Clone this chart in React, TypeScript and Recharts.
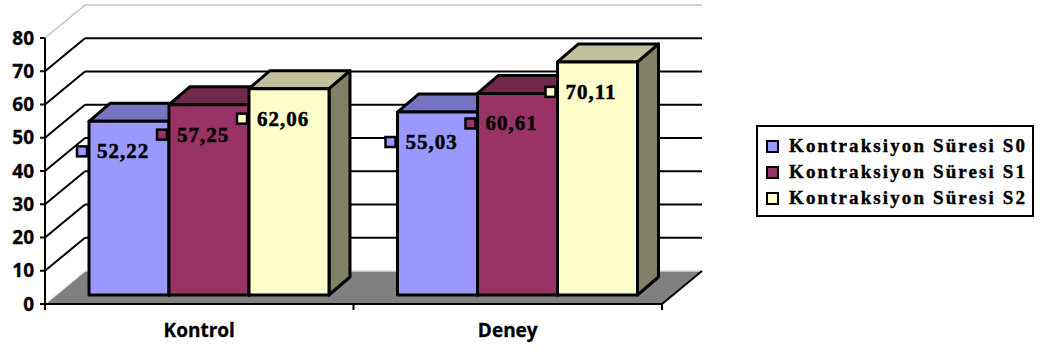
import { BarChart, Bar, XAxis, YAxis, CartesianGrid, Legend, LabelList } from 'recharts'

const CATEGORIES = ['Kontrol', 'Deney']
const S0_VALUES = [52.22, 55.03]
const S1_VALUES = [57.25, 60.61]
const S2_VALUES = [62.06, 70.11]
const SERIES_NAMES = ['Kontraksiyon Süresi S0', 'Kontraksiyon Süresi S1', 'Kontraksiyon Süresi S2']
const Y_TICKS = [0, 10, 20, 30, 40, 50, 60, 70, 80]

const data = CATEGORIES.map((name, i) => ({
  name,
  s0: S0_VALUES[i],
  s1: S1_VALUES[i],
  s2: S2_VALUES[i],
}))

// front / top / side shades of each box
const COLORS = [
  { front: '#9999FF', top: '#7474C0', side: '#5C5C99' },
  { front: '#993366', top: '#72284D', side: '#5C1F3D' },
  { front: '#FFFFCC', top: '#C0C09A', side: '#808066' },
]

const CHART_W = 1047
const CHART_H = 352
const MARGIN = { top: 38, right: 385, bottom: 0, left: 0 }
const Y_AXIS_W = 45
const X_AXIS_H = 48
const PLOT_TOP = MARGIN.top
const PLOT_BOTTOM = CHART_H - X_AXIS_H
const PLOT_W = CHART_W - MARGIN.right - Y_AXIS_W
const X_TICK_SIZE = 6
const X_TICK_MARGIN = 14

// 3d offsets: walls, bar front plane, bar depth
const WALL = { dx: 40, dy: -33 }
const BAR_OFF = { dx: 10, dy: -9 }
const BAR_DEPTH = { dx: 21, dy: -18 }
const LABEL_DROP = 30

const serif = 'Liberation Serif, Tinos, DejaVu Serif, serif'
const sans = 'Open Sans, DejaVu Sans, sans-serif'

const fmt = (v: number) => v.toFixed(2).replace('.', ',')

function WallLine(props: any) {
  const { x1, x2, y1, index } = props
  const isTop = Math.abs(y1 - PLOT_TOP) < 0.5
  const isFloor = Math.abs(y1 - PLOT_BOTTOM) < 0.5
  const bx1 = x1 + WALL.dx
  const bx2 = x2 + WALL.dx
  const by = y1 + WALL.dy
  if (isFloor) {
    return (
      <g key={`wall-${index}`}>
        <polygon points={`${x1},${y1} ${x2},${y1} ${bx2},${by} ${bx1},${by}`} fill="#808080" />
        <line x1={bx1} y1={by} x2={bx2} y2={by} stroke="#d8d8d8" strokeWidth={1.5} />
        <line x1={x1} y1={y1} x2={bx1} y2={by} stroke="#eeeeee" strokeWidth={1.5} />
        <line x1={x2} y1={y1} x2={bx2} y2={by} stroke="#000" strokeWidth={2} />
      </g>
    )
  }
  const stroke = isTop ? '#c4c4c4' : '#000'
  const w = isTop ? 1.5 : 2
  return (
    <g key={`wall-${index}`}>
      <line x1={x1} y1={y1} x2={bx1} y2={by} stroke={stroke} strokeWidth={w} />
      <line x1={bx1} y1={by} x2={bx2} y2={by} stroke={stroke} strokeWidth={w} />
    </g>
  )
}

function makeBox(c: { front: string; top: string; side: string }) {
  return (props: any) => {
    const { x, y, width, height } = props
    if (width == null || height == null) return <g />
    const fx = x + BAR_OFF.dx
    const fy = y + BAR_OFF.dy
    const w = width
    const h = height
    const d = BAR_DEPTH
    const common = { stroke: '#000', strokeWidth: 3, strokeLinejoin: 'round' as const }
    return (
      <g>
        <polygon
          points={`${fx + w},${fy} ${fx + w + d.dx},${fy + d.dy} ${fx + w + d.dx},${fy + h + d.dy} ${fx + w},${fy + h}`}
          fill={c.side}
          {...common}
        />
        <polygon
          points={`${fx},${fy} ${fx + w},${fy} ${fx + w + d.dx},${fy + d.dy} ${fx + d.dx},${fy + d.dy}`}
          fill={c.top}
          {...common}
        />
        <rect x={fx} y={fy} width={w} height={h} fill={c.front} {...common} />
      </g>
    )
  }
}

function makeLabel(color: string) {
  return (props: any) => {
    const vb = props.viewBox ?? props
    if (vb.x == null || props.value == null) return null
    const fx = vb.x + BAR_OFF.dx
    const cy = vb.y + BAR_OFF.dy + LABEL_DROP
    return (
      <g>
        <rect x={fx - 12} y={cy - 5} width={10} height={10} fill={color} stroke="#000" strokeWidth={2.5} />
        <text
          x={fx + 8}
          y={cy + 7}
          fill="#000"
          stroke="#000"
          strokeWidth={0.5}
          style={{ fontFamily: serif, fontWeight: 700, fontSize: 21, letterSpacing: 1 }}
        >
          {fmt(Number(props.value))}
        </text>
      </g>
    )
  }
}

function CategoryTick(props: any) {
  const { x, y, payload, index } = props
  const half = payload?.offset || PLOT_W / CATEGORIES.length / 2
  const y0 = y - X_TICK_SIZE - X_TICK_MARGIN
  return (
    <g>
      <line x1={x - half} y1={y0} x2={x - half} y2={y0 + X_TICK_SIZE} stroke="#000" strokeWidth={2} />
      {index === CATEGORIES.length - 1 && (
        <line x1={x + half} y1={y0} x2={x + half} y2={y0 + X_TICK_SIZE} stroke="#000" strokeWidth={2} />
      )}
      <text
        x={x}
        y={y0 + 33}
        textAnchor="middle"
        fill="#000"
        stroke="#000"
        strokeWidth={0.3}
        style={{ fontFamily: sans, fontWeight: 700, fontSize: 19 }}
      >
        {payload.value}
      </text>
    </g>
  )
}

function LegendBox(props: any) {
  const payload = props.payload ?? []
  return (
    <div
      style={{
        border: '2px solid #000',
        boxSizing: 'border-box',
        width: 278,
        height: 92,
        padding: '6px 0 0 8px',
        background: '#fff',
      }}
    >
      {payload.map((entry: any, i: number) => (
        <div key={i} style={{ display: 'flex', alignItems: 'center', height: 26 }}>
          <span
            style={{
              display: 'inline-block',
              width: 9,
              height: 9,
              border: '2px solid #000',
              background: entry.color,
            }}
          />
          <span
            style={{
              marginLeft: 10,
              fontFamily: serif,
              fontWeight: 700,
              fontSize: 19,
              letterSpacing: 2.1,
              whiteSpace: 'nowrap',
              color: '#000',
              lineHeight: '26px',
              WebkitTextStroke: '0.4px #000',
            }}
          >
            {entry.value}
          </span>
        </div>
      ))}
    </div>
  )
}

export default function App() {
  const keys = ['s0', 's1', 's2']
  return (
    <div style={{ position: 'absolute', left: 0, top: 0, background: '#fff' }}>
      <BarChart
        width={CHART_W}
        height={CHART_H}
        data={data}
        margin={MARGIN}
        barSize={80}
        barGap={0}
      >
        <CartesianGrid vertical={false} horizontal={(p: any) => <WallLine {...p} />} />
        <XAxis
          dataKey="name"
          height={X_AXIS_H}
          axisLine={{ stroke: '#000', strokeWidth: 2 }}
          tickLine={false}
          tickSize={X_TICK_SIZE}
          tickMargin={X_TICK_MARGIN}
          tick={<CategoryTick />}
          interval={0}
        />
        <YAxis
          width={Y_AXIS_W}
          domain={[0, 80]}
          ticks={Y_TICKS}
          interval={0}
          axisLine={{ stroke: '#000', strokeWidth: 2 }}
          tickLine={{ stroke: '#000', strokeWidth: 2 }}
          tickSize={5}
          tickMargin={6}
          tick={{ fill: '#000', stroke: '#000', strokeWidth: 0.3, fontSize: 19, fontWeight: 700, fontFamily: sans }}
        />
        {keys.map((k, i) => (
          <Bar
            key={k}
            dataKey={k}
            name={SERIES_NAMES[i]}
            fill={COLORS[i].front}
            legendType="square"
            shape={makeBox(COLORS[i])}
            isAnimationActive={false}
          >
            <LabelList dataKey={k} content={makeLabel(COLORS[i].front)} />
          </Bar>
        ))}
        <Legend
          layout="vertical"
          align="center"
          verticalAlign="middle"
          width={278}
          wrapperStyle={{ left: 756, top: 125, width: 278 }}
          content={<LegendBox />}
        />
      </BarChart>
    </div>
  )
}
